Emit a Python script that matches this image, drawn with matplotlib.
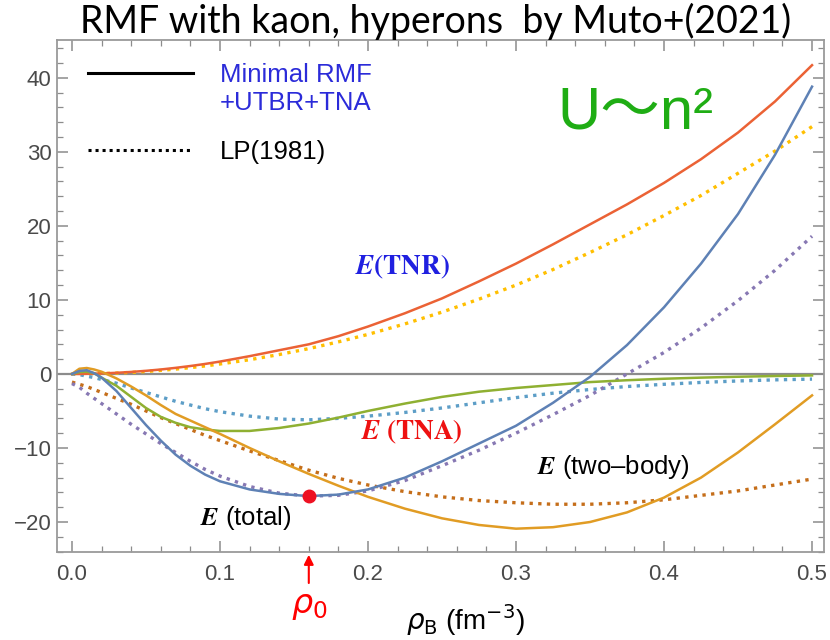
import numpy as np
import matplotlib
matplotlib.use('Agg')
import matplotlib.pyplot as plt
from matplotlib.lines import Line2D

plt.rcParams['font.family'] = ['Liberation Sans', 'DejaVu Sans']

# densidad barionica (fm^-3)
rho = [0, 0.005, 0.01, 0.015, 0.02, 0.03, 0.04, 0.05, 0.06, 0.07, 0.08, 0.09, 0.10,
       0.12, 0.14, 0.16, 0.18, 0.20, 0.225, 0.25, 0.275, 0.30, 0.325, 0.35, 0.375,
       0.40, 0.425, 0.45, 0.475, 0.50]

# Minimal RMF + UTBR + TNA (solidas)
E_total = [0, 0.4, 0.5, 0.1, -0.5, -2.3, -4.6, -6.9, -9.0, -10.9, -12.4, -13.6, -14.5,
           -15.6, -16.2, -16.5, -16.3, -15.6, -14.0, -11.8, -9.4, -7.0, -3.9, -0.4, 3.9,
           9.0, 14.9, 21.6, 29.6, 38.8]
E_two = [0, 0.7, 0.8, 0.6, 0.3, -0.6, -1.7, -2.9, -4.2, -5.4, -6.3, -7.2, -8.1,
         -10.0, -11.8, -13.5, -15.1, -16.6, -18.2, -19.5, -20.4, -20.9, -20.7, -20.0, -18.7,
         -16.7, -14.0, -10.6, -6.8, -2.9]
E_TNA = [0, 0.25, 0.3, 0.1, -0.5, -1.6, -3.1, -4.6, -5.8, -6.6, -7.2, -7.5, -7.7,
         -7.7, -7.3, -6.7, -5.9, -5.0, -4.0, -3.1, -2.4, -1.9, -1.5, -1.1, -0.85,
         -0.65, -0.5, -0.38, -0.28, -0.2]
E_TNR = [0, 0, 0.02, 0.04, 0.07, 0.15, 0.27, 0.42, 0.6, 0.82, 1.07, 1.35, 1.67,
         2.4, 3.2, 4.0, 5.1, 6.4, 8.2, 10.2, 12.5, 14.9, 17.5, 20.2, 22.9,
         25.8, 29.0, 32.6, 36.8, 41.7]

# LP(1981) (punteadas)
LP_total = [-1.3, -1.8, -2.6, -3.3, -4.0, -5.4, -6.8, -8.1, -9.4, -10.6, -11.8, -12.9, -13.8,
            -15.2, -16.1, -16.5, -16.4, -15.8, -14.4, -12.4, -10.3, -8.0, -5.5, -2.9, 0.0,
            2.9, 6.2, 9.9, 14.0, 18.6]
LP_two = [-1.1, -1.4, -1.7, -2.1, -2.5, -3.3, -4.1, -5.0, -5.9, -6.7, -7.5, -8.3, -9.0,
          -10.4, -11.7, -13.0, -14.1, -15.0, -15.9, -16.6, -17.1, -17.4, -17.6, -17.6, -17.4,
          -17.0, -16.4, -15.8, -15.0, -14.2]
LP_TNA = [0, -0.1, -0.3, -0.5, -0.75, -1.25, -1.9, -2.5, -3.1, -3.7, -4.2, -4.7, -5.1,
          -5.7, -6.1, -6.2, -6.0, -5.7, -5.2, -4.6, -3.9, -3.2, -2.6, -2.1, -1.7,
          -1.4, -1.15, -0.95, -0.8, -0.7]
LP_TNR = [0, 0, 0.01, 0.03, 0.05, 0.12, 0.21, 0.33, 0.48, 0.65, 0.85, 1.08, 1.34,
          1.92, 2.62, 3.42, 4.33, 5.34, 6.76, 8.35, 10.1, 12.0, 14.1, 16.4, 18.8,
          21.4, 24.1, 27.1, 30.1, 33.4]

rho0 = 0.16
E0 = -16.55

# colores por defecto de Mathematica
c_blue, c_orange, c_green, c_red = '#5e81b5', '#e19c24', '#8fb032', '#eb6235'
c_purple, c_brown, c_lblue, c_yellow = '#8778b3', '#c56e1a', '#5d9ec7', '#ffbf00'

fig = plt.figure(figsize=(8.3, 6.4), dpi=100)
ax = fig.add_axes([0.0687, 0.1375, 0.9241, 0.8])

ax.axhline(0, color='#8c8c8c', lw=1.6, zorder=1)

dot = (0, (1, 1.6))
kw = dict(lw=2.4, ls=dot)
ax.plot(rho, LP_TNR, color=c_yellow, **kw)
ax.plot(rho, LP_TNA, color=c_lblue, **kw)
ax.plot(rho, LP_two, color=c_brown, **kw)
ax.plot(rho, LP_total, color=c_purple, **kw)

kw = dict(lw=1.8, solid_joinstyle='round')
ax.plot(rho, E_TNR, color=c_red, **kw)
ax.plot(rho, E_TNA, color=c_green, **kw)
ax.plot(rho, E_two, color=c_orange, **kw)
ax.plot(rho, E_total, color=c_blue, **kw)

ax.plot([rho0], [E0], 'o', color='#ee1122', ms=9, zorder=5)

ax.set_xlim(-0.0101, 0.5081)
ax.set_ylim(-24.05, 45.1)
ax.set_xticks([0.0, 0.1, 0.2, 0.3, 0.4, 0.5])
ax.set_xticklabels(['0.0', '0.1', '0.2', '0.3', '0.4', '0.5'])
ax.set_yticks([-20, -10, 0, 10, 20, 30, 40])
ax.set_yticklabels(['\u221220', '\u221210', '0', '10', '20', '30', '40'])
ax.set_xticks(np.arange(0, 0.51, 0.02), minor=True)
ax.set_yticks(np.arange(-24, 45, 2), minor=True)
ax.tick_params(which='both', direction='in', top=True, right=True, color='#8c8c8c')
ax.tick_params(which='major', length=8, width=1.1, labelsize=16, labelcolor='#4a4a4a')
ax.tick_params(which='minor', length=4, width=0.9)
ax.tick_params(axis='x', pad=9)
ax.tick_params(axis='y', pad=4)
for s in ax.spines.values():
    s.set_color('#9a9a9a')
    s.set_linewidth(1.3)

# leyenda
h = [Line2D([], [], color='black', lw=2.2),
     Line2D([], [], color='black', lw=2.2, ls=(0, (1, 1.3)))]
leg = ax.legend(h, ['Minimal RMF', 'LP(1981)'], loc='upper left',
                bbox_to_anchor=(0.01, 1.0), frameon=False, fontsize=18.5,
                handlelength=4.1, handletextpad=1.05, labelspacing=2.05)
leg.get_texts()[0].set_color('#2b2bd9')
ax.text(0.2125, 0.877, '+UTBR+TNA', transform=ax.transAxes, color='#2b2bd9',
        fontsize=18.5, va='center')

# etiquetas
ax.text(0.191, 14.5, r'$\mathbfit{E}\mathbf{(TNR)}$', color='#2020e0', fontsize=19.5,
        va='center', math_fontfamily='stix')
ax.text(0.195, -7.8, r'$\mathbfit{E}\ \mathbf{(TNA)}$', color='#ee1111', fontsize=19.5,
        va='center', math_fontfamily='stix')
ax.text(0.314, -12.6, '$\\mathbfit{E}$ (two\u2013body)', color='black', fontsize=18.5,
        va='center', math_fontfamily='stix')
ax.text(0.0865, -19.5, r'$\mathbfit{E}$ (total)', color='black', fontsize=18.5,
        va='center', math_fontfamily='stix')

ax.text(0.653, 0.828, 'U\uff5en\u00b2', transform=ax.transAxes, color='#1fad14',
        fontsize=43, family=['Liberation Sans', 'Noto Sans CJK JP'], va='baseline')

# rho_0
ax.annotate('', xy=(rho0, 0), xycoords=('data', 'axes fraction'),
            xytext=(rho0, -0.066), textcoords=('data', 'axes fraction'),
            arrowprops=dict(arrowstyle='-|>', color='red', lw=1.5, mutation_scale=14))
ax.text(rho0, -0.107, r'$\rho_0$', transform=ax.get_xaxis_transform(), color='red',
        fontsize=24, ha='center', va='center')

ax.set_xlabel(r'$\rho_{\rm B}$ (fm$^{-3}$)', fontsize=20)
ax.xaxis.set_label_coords(0.532, -0.097)

fig.text(0.525, 0.948, 'RMF with kaon, hyperons  by Muto+(2021)', family='Lato',
         fontsize=27, ha='center', va='baseline')

plt.savefig('out.png', dpi=100)
